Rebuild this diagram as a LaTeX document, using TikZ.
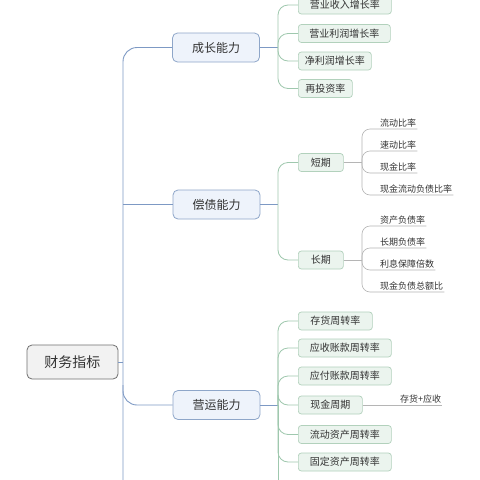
\documentclass[tikz,border=0pt]{standalone}
\usepackage{fontspec}
\setmainfont{Noto Sans CJK SC}
\definecolor{rootborder}{HTML}{707070}
\definecolor{rootfill}{HTML}{F2F2F2}
\definecolor{catborder}{HTML}{8EA6C9}
\definecolor{catfill}{HTML}{EEF3FB}
\definecolor{subborder}{HTML}{B2D1BC}
\definecolor{subfill}{HTML}{EBF4EE}
\definecolor{trunkc}{HTML}{7D99C4}
\definecolor{greenc}{HTML}{9FC8AE}
\definecolor{grayc}{HTML}{B5B5B5}
\definecolor{txt}{HTML}{333333}
\begin{document}
\begin{tikzpicture}[x=1pt,y=-1pt,
 rootbox/.style={draw=rootborder, fill=rootfill, rounded corners=5pt, minimum width=91pt, minimum height=34pt, font=\fontsize{14}{16}\selectfont, text=txt, line width=0.8pt},
 catbox/.style={draw=catborder, fill=catfill, rounded corners=5pt, minimum width=87pt, minimum height=29pt, font=\fontsize{12}{14}\selectfont, text=txt, line width=0.8pt},
 subbox/.style={draw=subborder, fill=subfill, rounded corners=3pt, minimum height=18pt, anchor=west, font=\fontsize{10}{12}\selectfont, text=txt, inner xsep=2pt, line width=0.7pt},
 leaf/.style={anchor=south west, inner xsep=1pt, inner ysep=2pt, font=\fontsize{9}{11}\selectfont, text=txt},
 trunk/.style={draw=trunkc, line width=0.9pt, rounded corners=14pt},
 gl/.style={draw=greenc, line width=0.8pt, rounded corners=10pt},
 ll/.style={draw=grayc, line width=0.6pt, rounded corners=8pt}]
\fill[white] (0,0) rectangle (480,480);
\useasboundingbox (0,0) rectangle (480,480);
\clip (0,0) rectangle (480,480);

% nodes
\node[rootbox] (root) at (72.5,362) {财务指标};
\node[catbox] (c1) at (216,47.5) {成长能力};
\node[catbox] (c2) at (216.5,204.5) {偿债能力};
\node[catbox] (c3) at (216.5,405) {营运能力};

\coordinate (t0) at (123,362);
\coordinate (tb) at (123,490);
\coordinate (t3) at (123,385);
\coordinate (j1) at (278,47.5);
\coordinate (j2) at (278,204.5);
\coordinate (j3) at (278,405);
\coordinate (j3b) at (278,490);
\coordinate (k1) at (362,162.5);
\coordinate (k2) at (362,260);

\node[subbox, minimum width=93pt] (s11) at (298,5) {营业收入增长率};
\node[subbox, minimum width=92pt] (s12) at (298,33.5) {营业利润增长率};
\node[subbox, minimum width=73pt] (s13) at (298,61) {净利润增长率};
\node[subbox, minimum width=54pt] (s14) at (298,88.5) {再投资率};

\node[subbox, minimum width=45pt] (s21) at (298,162.5) {短期};
\node[subbox, minimum width=45pt] (s22) at (298,260) {长期};

\node[leaf] (l11) at (379,129) {流动比率};
\node[leaf] (l12) at (379,151) {速动比率};
\node[leaf] (l13) at (379,173) {现金比率};
\node[leaf] (l14) at (379,195) {现金流动负债比率};
\node[leaf] (l21) at (379,226) {资产负债率};
\node[leaf] (l22) at (379,248) {长期负债率};
\node[leaf] (l23) at (379,270) {利息保障倍数};
\node[leaf] (l24) at (379,292) {现金负债总额比};

\node[subbox, minimum width=74pt] (s31) at (298,321) {存货周转率};
\node[subbox, minimum width=93pt] (s32) at (298,348) {应收账款周转率};
\node[subbox, minimum width=93pt] (s33) at (298,376) {应付账款周转率};
\node[subbox, minimum width=64pt] (s34) at (298,405) {现金周期};
\node[subbox, minimum width=93pt] (s35) at (298,434.5) {流动资产周转率};
\node[subbox, minimum width=93pt] (s36) at (298,462) {固定资产周转率};
\node[leaf] (l31) at (399,405) {存货+应收};

% trunk connectors
\draw[trunk] (root.east) -- (t0);
\draw[trunk] (c1.west) -| (tb);
\draw[trunk] (t0 |- c2.west) -- (c2.west);
\draw[trunk] (t3) |- (c3.west);

% category to junction
\draw[trunk] (c1.east) -- (j1);
\draw[trunk] (c2.east) -- (j2);
\draw[trunk] (c3.east) -- (j3);

% green branches
\foreach \s in {s11,s12,s13,s14} \draw[gl] (j1) |- (\s.west);
\foreach \s in {s21,s22} \draw[gl] (j2) |- (\s.west);
\foreach \s in {s31,s32,s33,s34,s35,s36} \draw[gl] (j3) |- (\s.west);
\draw[gl] (j3) -- (j3b);

% gray leaves
\draw[ll] (s21.east) -- (k1);
\draw[ll] (s22.east) -- (k2);
\foreach \l in {l11,l12,l13,l14} \draw[ll] (k1) |- (\l.south east);
\foreach \l in {l21,l22,l23,l24} \draw[ll] (k2) |- (\l.south east);
\draw[ll] (s34.east) -- (l31.south east);
\end{tikzpicture}
\end{document}
